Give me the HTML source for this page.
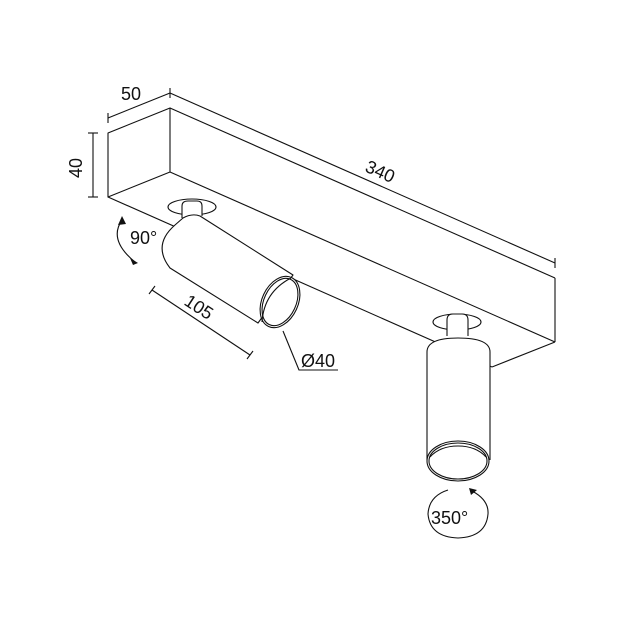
<!DOCTYPE html>
<html><head><style>
html,body{margin:0;padding:0;background:#fff;}
svg{display:block;}
text{font-family:"Liberation Sans",sans-serif;fill:#111;}
</style></head><body>
<svg width="623" height="623" viewBox="0 0 623 623" xmlns="http://www.w3.org/2000/svg">
<g fill="none" stroke="#111" stroke-width="1.1" stroke-linejoin="round">
<!-- box -->
<polygon points="108,133 170,108 170,172 108,197" fill="#fff"/>
<line x1="170" y1="108" x2="555" y2="278"/>
<line x1="170" y1="172" x2="555" y2="342"/>
<line x1="555" y1="278" x2="555" y2="342"/>
<line x1="555" y1="342" x2="492" y2="367"/>
<line x1="108" y1="197" x2="492" y2="367"/>
<!-- dims -->
<line x1="170" y1="93" x2="555" y2="263"/>
<line x1="170" y1="88" x2="170" y2="98"/>
<line x1="555" y1="258" x2="555" y2="268"/>
<line x1="108" y1="118" x2="170" y2="93"/>
<line x1="108" y1="113" x2="108" y2="123"/>
<line x1="93" y1="133" x2="93" y2="197"/>
<line x1="88" y1="133" x2="98" y2="133"/>
<line x1="88" y1="197" x2="98" y2="197"/>
<!-- lamp1 mount -->
<ellipse cx="192" cy="207" rx="24" ry="8" fill="#fff"/>
<path d="M182,218 V206 Q182,201 188,201 H197 Q202,201 202,206 V216" fill="#fff"/>
<!-- lamp1 body -->
<path d="M183,218 Q192,213 200,216 L293,275 L258,323 L170,268 Q152,245 175,225 Z" fill="#fff"/>
<path d="M183,218 Q192,213 200,216" stroke="none"/>
<ellipse cx="280" cy="302" rx="18" ry="27" transform="rotate(25 280 302)" fill="#fff"/>
<ellipse cx="280" cy="302" rx="16" ry="25" transform="rotate(25 280 302)"/>
<path d="M291,278 Q264,292 262,322"/>
<!-- 105 dim -->
<line x1="152" y1="290" x2="250" y2="355"/>
<line x1="149" y1="294" x2="155" y2="286"/>
<line x1="247" y1="359" x2="253" y2="351"/>
<!-- Ø40 leader -->
<polyline points="283,331 299,370 338,370"/>
<!-- 90 arrow -->
<path d="M122,220 Q108,240 135,262"/>
<!-- lamp2 mount -->
<ellipse cx="457" cy="322" rx="24" ry="8" fill="#fff"/>
<path d="M447,336 V320 Q447,314 453,314 H462 Q468,314 468,320 V336" fill="#fff"/>
<!-- lamp2 body -->
<path d="M427,460 V352 Q427,338 458,338 Q490,338 490,352 V460" fill="#fff"/>
<ellipse cx="458" cy="461" rx="31" ry="20" fill="#fff"/>
<ellipse cx="458" cy="461" rx="29" ry="18"/>
<path d="M430,457 Q440,446 458,446 Q476,446 486,457"/>
<!-- 350 circle -->
<path d="M472,491 Q489,500 488,514 Q486,537 458,538 Q430,537 428,514 Q429,496 448,490"/>
</g>
<g fill="#111">
<polygon points="122,216 118,225 126,224"/>
<polygon points="138,263 130,258 133,265"/>
<polygon points="469,488 477,490 471,495"/>
</g>
<text x="121" y="100" font-size="18">50</text>
<text x="0" y="0" font-size="18" transform="translate(82,178) rotate(-90)">40</text>
<text x="0" y="0" font-size="18" transform="translate(364,171) rotate(24)">340</text>
<text x="130" y="244" font-size="18">90°</text>
<text x="0" y="0" font-size="18" transform="translate(183,304) rotate(33)">105</text>
<text x="301" y="367" font-size="18">Ø40</text>
<text x="431" y="524" font-size="18">350°</text>
</svg>
</body></html>
